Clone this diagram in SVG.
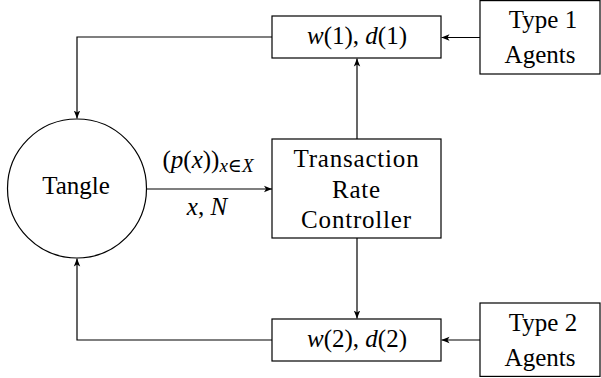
<svg xmlns="http://www.w3.org/2000/svg" width="601" height="378" viewBox="0 0 601 378" font-family="'Liberation Serif', 'DejaVu Serif', serif">
<style>
.box{fill:#fff;stroke:#000;stroke-width:1.2}
.t{font-family:"Liberation Serif","DejaVu Serif",serif;font-size:25px;fill:#000;text-anchor:middle}
.m{font-style:italic}
.w{letter-spacing:0.8px}
.e{stroke:#000;stroke-width:1.2;fill:none;marker-end:url(#ah)}
</style>
<defs>
<marker id="ah" viewBox="0 0 10 10" refX="10" refY="5" markerWidth="8" markerHeight="8" markerUnits="userSpaceOnUse" orient="auto">
<path d="M0,1 L10,5 L0,9 L2.5,5 Z" fill="#000"/>
</marker>
</defs>
<g id="connectors">
<path class="e" d="M272,37 H77 V118.5"/>
<path class="e" d="M272,340 H77 V258.5"/>
<path class="e" d="M480,37.5 H441.5"/>
<path class="e" d="M480,340 H441.5"/>
<path class="e" d="M357,139 V58.5"/>
<path class="e" d="M357,238 V318.5"/>
<path class="e" d="M146.5,189 H272"/>
<text class="t" x="208" y="168"><tspan>(</tspan><tspan class="m">p</tspan><tspan>(</tspan><tspan class="m">x</tspan><tspan>))</tspan><tspan class="m" font-size="19" dy="4">x</tspan><tspan font-size="19">∈</tspan><tspan class="m" font-size="19">X</tspan></text>
<text class="t" x="207" y="215"><tspan class="m">x</tspan><tspan>, </tspan><tspan class="m">N</tspan></text>
</g>
<g id="tangle">
<circle class="box" cx="77" cy="188.5" r="69.5"/>
<text class="t" x="76" y="194">Tangle</text>
</g>
<g id="controller">
<rect class="box" x="272" y="139" width="169" height="99"/>
<text class="t w" x="356.5" y="167">Transaction</text>
<text class="t w" x="356.5" y="198">Rate</text>
<text class="t w" x="356.5" y="228">Controller</text>
</g>
<g id="wd1">
<rect class="box" x="272" y="16" width="169" height="42"/>
<text class="t" x="357" y="43.5"><tspan class="m">w</tspan><tspan>(1), </tspan><tspan class="m">d</tspan><tspan>(1)</tspan></text>
</g>
<g id="wd2">
<rect class="box" x="272" y="319" width="169" height="42"/>
<text class="t" x="357" y="346.5"><tspan class="m">w</tspan><tspan>(2), </tspan><tspan class="m">d</tspan><tspan>(2)</tspan></text>
</g>
<g id="type1">
<rect class="box" x="480" y="0.6" width="120" height="73.4"/>
<text class="t" x="543" y="28">Type 1</text>
<text class="t" x="540" y="63">Agents</text>
</g>
<g id="type2">
<rect class="box" x="480" y="303" width="120" height="73.4"/>
<text class="t" x="543" y="331">Type 2</text>
<text class="t" x="540" y="366">Agents</text>
</g>
</svg>
